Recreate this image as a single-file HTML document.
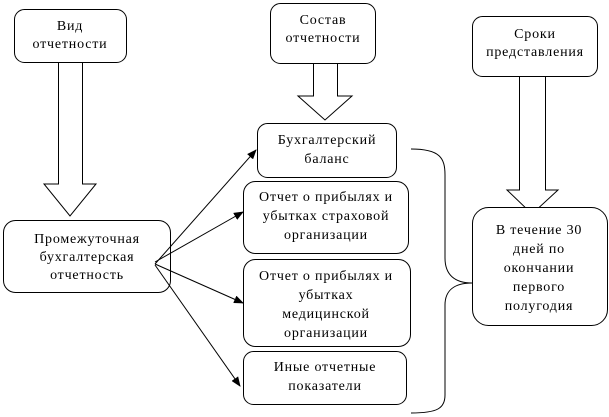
<!DOCTYPE html>
<html><head><meta charset="utf-8"><style>
html,body{margin:0;padding:0;background:#fff;}
svg{display:block;}
text{font-family:"Liberation Serif","DejaVu Serif",serif;font-size:14px;letter-spacing:0.8px;fill:#000;text-anchor:middle;}
</style></head><body>
<svg width="609" height="417" viewBox="0 0 609 417" xmlns="http://www.w3.org/2000/svg">
<defs><marker id="a" markerWidth="10" markerHeight="8" refX="9" refY="4" orient="auto" markerUnits="userSpaceOnUse"><path d="M0,0 L10,4 L0,8 Z" fill="#000"/></marker></defs>
<g fill="#fff" stroke="#000" stroke-width="1">
<path d="M58.5,58 H82.5 V184 H96 L70,216 L44,184 H58.5 Z"/>
<path d="M313.5,56 H337.5 V96 H352 L325,120 L298,96 H313.5 Z"/>
<path d="M519.5,64 H545.5 V190 H558 L532,214 L507,190 H519.5 Z"/>
<rect x="14.5" y="9.5" width="112" height="53" rx="10"/>
<rect x="270.5" y="3.5" width="105" height="60" rx="10"/>
<rect x="472.5" y="16.5" width="125" height="60" rx="10"/>
<rect x="3.5" y="220.5" width="167" height="72" rx="12"/>
<rect x="257.5" y="123.5" width="139" height="54" rx="10"/>
<rect x="243.5" y="181.5" width="165" height="72" rx="12"/>
<rect x="243.5" y="259.5" width="167" height="87" rx="12"/>
<rect x="243.5" y="351.5" width="163" height="53" rx="10"/>
<rect x="472.5" y="207.5" width="135" height="118" rx="16"/>
<path d="M411,149 C440,149 445,158 445,175 V258 C445,275 455,283 472,283 C455,283 445,290 445,305 V395 C445,408 438,413 411,413" fill="none"/>
</g>
<g stroke="#000" stroke-width="1" fill="none" marker-end="url(#a)">
<line x1="155" y1="264" x2="256" y2="150"/>
<line x1="155" y1="262" x2="243" y2="212"/>
<line x1="155" y1="264" x2="243" y2="303"/>
<line x1="155" y1="265" x2="240" y2="386"/>
</g>
<text x="70" y="30">Вид</text><text x="70" y="48">отчетности</text>
<text x="323" y="24">Состав</text><text x="323" y="42">отчетности</text>
<text x="535" y="38">Сроки</text><text x="535" y="56">представления</text>
<text x="87" y="243">Промежуточная</text><text x="87" y="261">бухгалтерская</text><text x="87" y="279">отчетность</text>
<text x="327" y="144">Бухгалтерский</text><text x="327" y="163">баланс</text>
<text x="326" y="201">Отчет о прибылях и</text><text x="326" y="220">убытках  страховой</text><text x="326" y="239">организации</text>
<text x="326" y="280">Отчет о прибылях и</text><text x="326" y="299">убытках</text><text x="326" y="318">медицинской</text><text x="326" y="337">организации</text>
<text x="325" y="371">Иные отчетные</text><text x="325" y="390">показатели</text>
<text x="539" y="234">В течение 30</text><text x="539" y="253">дней по</text><text x="539" y="272">окончании</text><text x="539" y="291">первого</text><text x="539" y="310">полугодия</text>
</svg>
</body></html>
